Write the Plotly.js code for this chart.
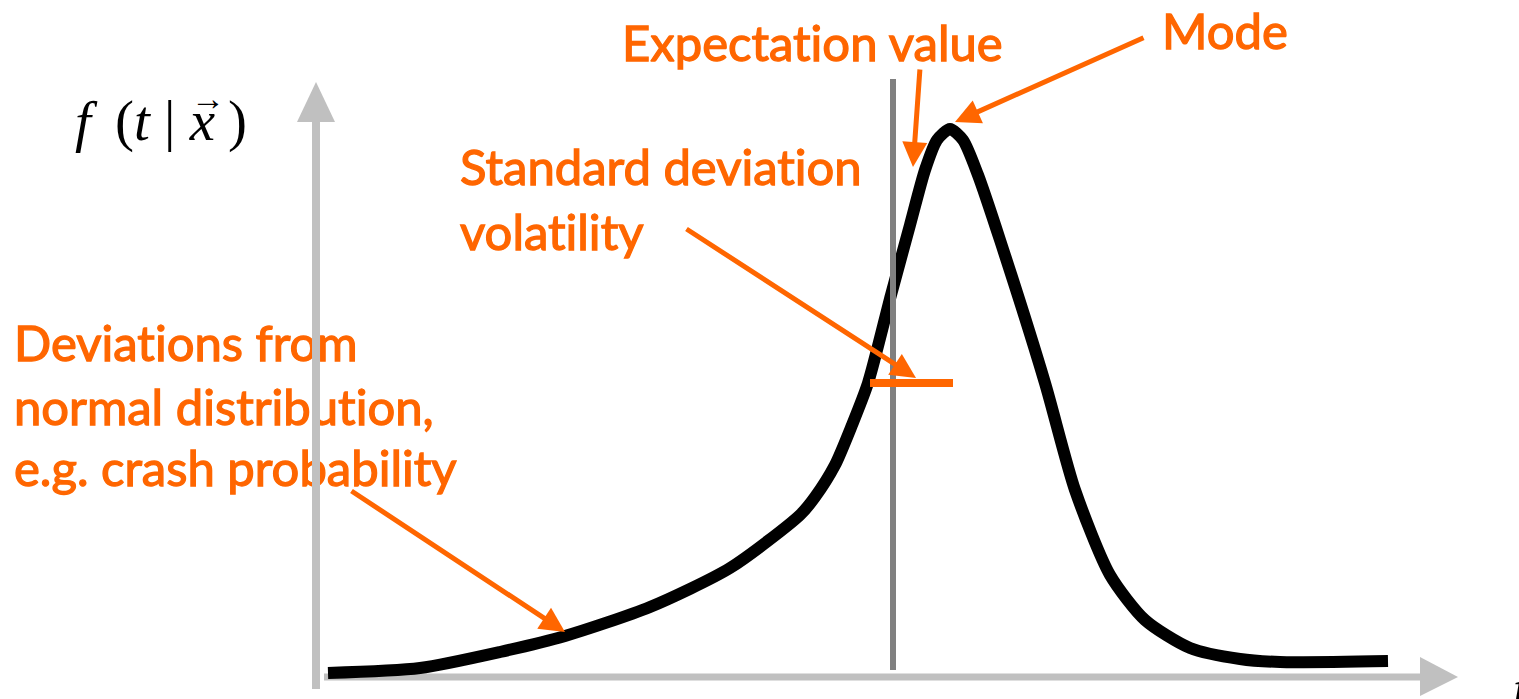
<!DOCTYPE html>
<html>
<head>
<meta charset="utf-8">
<script src="https://cdn.plot.ly/plotly-3.0.1.min.js"></script>
<style>html,body{margin:0;padding:0;background:#fff;}#chart{width:1519px;height:699px;}
text{font-variant-ligatures:none;font-feature-settings:"liga" 0;}
.textpoint text{stroke:#ff6600;stroke-width:1.3px;}</style>
</head>
<body>
<div id="chart"></div>
<script>
// Density curve f(t | x) (t and f in arbitrary units)
const curveT = [0.12, 1.04, 1.84, 2.49, 3.34, 4.14, 4.84, 4.99, 5.19, 5.36, 5.52, 5.75, 5.94, 6.09, 6.21, 6.34, 6.47, 6.62, 6.84, 7.29, 7.59, 7.94, 8.29, 8.74, 9.24, 9.64, 10.72];
const curveF = [0.04, 0.09, 0.25, 0.41, 0.70, 1.09, 1.62, 1.80, 2.12, 2.52, 2.94, 3.82, 4.52, 5.07, 5.37, 5.48, 5.37, 5.02, 4.37, 2.94, 1.87, 1.02, 0.57, 0.29, 0.18, 0.15, 0.16];

// Expectation value and standard-deviation marker
const expectationT = 5.77;
const sdBarT = [5.54, 6.37];
const sdBarF = 2.94;

// Labels
const labelExpectation = "Expectation value";
const labelMode = "Mode";
const labelSD = ["Standard deviation", "volatility"];
const labelDev = ["Deviations from", "normal distribution,", "e.g. crash probability"];

const ORANGE = "#ff6600";
const AXIS = "#c0c0c0";
const FONT = "Lato, 'Open Sans', sans-serif";
const FS = 49;

const traces = [];
// label texts (drawn first so the axes sit over them)
function textTrace(x, y, txt) {
  return {x:[x], y:[y], mode:"text", text:[txt], textposition:"middle right",
    textfont:{family:FONT, size:FS, color:ORANGE}, hoverinfo:"skip", showlegend:false, cliponaxis:false};
}
traces.push(textTrace(3.06, 6.28, labelExpectation));
traces.push(textTrace(8.46, 6.40, labelMode));
traces.push(textTrace(1.44, 5.04, labelSD[0]));
traces.push(textTrace(1.44, 4.39, labelSD[1]));
traces.push(textTrace(-3.02, 3.28, labelDev[0]));
traces.push(textTrace(-3.02, 2.64, labelDev[1]));
traces.push(textTrace(-3.02, 2.03, labelDev[2]));

// axes
traces.push({x:[0,0], y:[-0.12,5.56], mode:"lines", line:{color:AXIS, width:8}, hoverinfo:"skip", showlegend:false});
traces.push({x:[-0.19,0.19,0,-0.19], y:[5.55,5.55,5.95,5.55], mode:"lines", fill:"toself", fillcolor:AXIS, line:{color:AXIS, width:0}, hoverinfo:"skip", showlegend:false});
traces.push({x:[0.08,11.05], y:[0,0], mode:"lines", line:{color:AXIS, width:7}, hoverinfo:"skip", showlegend:false});
traces.push({x:[11.04,11.04,11.42,11.04], y:[0.20,-0.19,0,0.20], mode:"lines", fill:"toself", fillcolor:AXIS, line:{color:AXIS, width:0}, hoverinfo:"skip", showlegend:false});

// curve
traces.push({x:curveT, y:curveF, mode:"lines", line:{color:"#000", width:12, shape:"spline", smoothing:0.7}, hoverinfo:"skip", showlegend:false});
// expectation line
traces.push({x:[expectationT, expectationT], y:[0.07, 5.98], mode:"lines", line:{color:"#808080", width:6}, hoverinfo:"skip", showlegend:false});
// sd bar
traces.push({x:sdBarT, y:[sdBarF, sdBarF], mode:"lines", line:{color:ORANGE, width:8}, hoverinfo:"skip", showlegend:false});

function arrow(x, y, ax, ay) {
  return {x:x, y:y, ax:ax, ay:ay, xref:"x", yref:"y", axref:"x", ayref:"y", text:"", showarrow:true,
    arrowhead:2, arrowsize:1, arrowwidth:5, arrowcolor:ORANGE, standoff:0, startstandoff:0};
}

const SERIF = "'Liberation Serif', 'Times New Roman', serif";
function serifText(x, y, txt, size) {
  return {x:x, y:y, xref:"x", yref:"y", xanchor:"left", yanchor:"middle", showarrow:false,
    text:txt, font:{family:SERIF, size:size, color:"#000"}};
}
const layout = {
  width:1519, height:699,
  margin:{l:0, r:0, t:0, b:0},
  paper_bgcolor:"#fff", plot_bgcolor:"#fff",
  xaxis:{range:[-3.16, 12.03], visible:false, fixedrange:true},
  yaxis:{range:[-0.22, 6.77], visible:false, fixedrange:true},
  showlegend:false,
  annotations:[
    arrow(5.97, 5.10, 6.04, 6.09),
    arrow(6.39, 5.55, 8.29, 6.40),
    arrow(6.00, 2.99, 3.69, 4.49),
    arrow(2.49, 0.45, 0.34, 1.87),
    serifText(-2.43, 5.56, "<i>f</i>", 57),
    serifText(-2.03, 5.56, "(<i>t</i> | <i>x</i>", 57),
    serifText(-0.90, 5.56, ")", 57),
    {x:-1.08, y:5.79, xref:"x", yref:"y", xanchor:"center", yanchor:"middle", showarrow:false,
     text:"\u2192", font:{family:SERIF, size:34, color:"#000"}},
    serifText(11.95, -0.12, "<i>t</i>", 54)
  ]
};

Plotly.newPlot("chart", traces, layout, {displayModeBar:false, staticPlot:true});
</script>
</body>
</html>
